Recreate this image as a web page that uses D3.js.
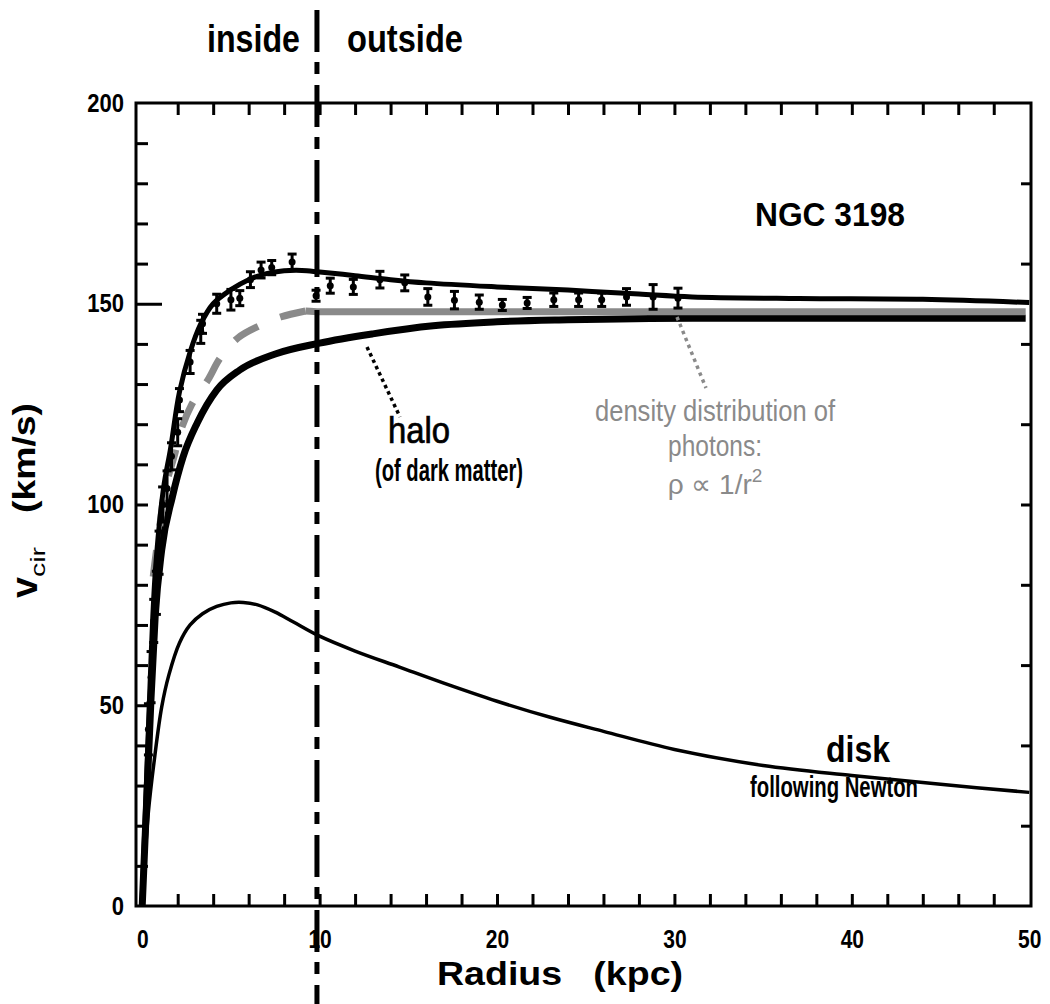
<!DOCTYPE html>
<html>
<head>
<meta charset="utf-8">
<script src="https://cdn.jsdelivr.net/npm/d3@7"></script>
<style>
  html, body { margin: 0; padding: 0; background: #fff; }
  svg { display: block; }
  text { font-family: "Liberation Sans", Arial, sans-serif; }
</style>
</head>
<body>
<svg id="chart" width="1050" height="1004"></svg>
<script>
// ---------- data ----------
const xTicks = [2,4,6,8,10,12,14,16,18,20,22,24,26,28,30,32,34,36,38,40,42,44,46,48];
const xTickLabels = [0,10,20,30,40,50];
const yTicks = [10,20,30,40,50,60,70,80,90,100,110,120,130,140,150,160,170,180,190];
const yTicksRight = [20,40,60,80,100,120,140,160,180];
const yTickLabels = [0,50,100,150,200];

// observed rotation velocities with error bars
const obsR   = [0.35,0.5,0.65,0.8,0.95,1.15,1.4,1.65,2.0,2.1,2.7,3.3,3.4,4.2,5.0,5.5,6.1,6.7,7.3,8.45,9.8,10.6,11.9,13.4,14.8,16.1,17.6,19.0,20.3,21.7,23.2,24.6,25.9,27.3,28.8,30.2];
const obsV   = [44,57,71,78,88,100,104,112,118,126,135.5,143,145,150,151,151.4,156,158.4,159,160.4,152,154.5,154.2,156,155.2,151.7,150.9,150.4,149.7,150.2,151,151,151,151.7,151.7,151.4];
const obsErr = [6,6,5,5,5,4,4,3,3,2.5,2.5,2.5,2,2,2.2,1.5,1.6,1.6,1.4,1.6,1,1.5,1.5,1.7,1.6,1.7,1.8,1.4,1.0,1.0,1.3,1.3,1.3,1.7,2.7,2.1];

// total fit
const totalR = [0,0.25,0.5,0.75,1.2,1.6,2.1,2.7,3.3,4,5,6,7,8,9,10,12,14,16,20,24,28,31,37,44,50];
const totalV = [2,32,62,84,104,114,128,138,145,150,153.5,156,157.5,158.2,158.3,157.9,157,156,155.2,154.2,153.4,152.4,151.7,151.3,151.1,150.3];

// halo (dark matter)
const haloR = [0,0.25,0.5,0.73,1.1,1.7,2.3,3.1,4.2,5.5,7.5,10,13,16.4,20,24,31,40,49.8];
const haloV = [0,26,52,72,88.7,101.9,111.8,120.3,128.5,133.5,137.5,140.2,142.5,144.5,145.5,146,146.4,146.4,146.4];

// photon density model (grey): dashed inner part, solid outer part
const photonInR = [0.62,0.7,1.0,1.3,1.86,2.14,2.8,3.7,4.4,5.4,6.7,7.8,9.2];
const photonInV = [82,85,95,104,113,118,125,131,136.5,141.5,144.7,146.7,148.2];
const photonOutR = [9.2,10,49.8];
const photonOutV = [148.2,148,148];

// disk (Newton)
const diskR = [0,0.34,0.7,1.1,1.5,2.1,2.7,3.4,4.2,5.0,5.7,6.5,7.5,8.5,10,12,14.5,17,20,23,26,30,35,40,45,50];
const diskV = [0,23,37,49.6,57.5,65.5,70,72.8,74.6,75.5,75.6,75,73.2,70.8,67.2,63.5,59.5,55.5,51,47,43.5,39,35,32.5,30.3,28.3];

const boundaryR = 9.85;

// ---------- layout ----------
const svg = d3.select("#chart");
const L = 136, R = 1031, T = 103, B = 906;
const x = d3.scaleLinear().domain([-0.35, 50.1]).range([L, R]);
const y = d3.scaleLinear().domain([0, 200]).range([B, T]);
const FONT = '"Liberation Sans", Arial, sans-serif';

function squeeze(sel, f) {
  sel.each(function() {
    const w = this.getComputedTextLength();
    d3.select(this).attr("textLength", w * f).attr("lengthAdjust", "spacingAndGlyphs");
  });
}

// ---------- axes ----------
function styleAxis(g) {
  g.select(".domain").remove();
  g.selectAll(".tick line").attr("stroke", "#000").attr("stroke-width", 3);
}
svg.append("g").attr("transform", `translate(0,${B})`)
  .call(d3.axisBottom(x).tickValues(xTicks).tickSizeInner(-12).tickSizeOuter(0).tickFormat(""))
  .call(styleAxis);
svg.append("g").attr("transform", `translate(0,${T})`)
  .call(d3.axisTop(x).tickValues(xTicks).tickSizeInner(-12).tickSizeOuter(0).tickFormat(""))
  .call(styleAxis);
svg.append("g").attr("transform", `translate(${L},0)`)
  .call(d3.axisLeft(y).tickValues(yTicks).tickSizeInner(-12).tickSizeOuter(0).tickFormat(""))
  .call(styleAxis)
  .selectAll(".tick line").attr("x2", d => d === 150 ? 26 : 12);
svg.append("g").attr("transform", `translate(${R},0)`)
  .call(d3.axisRight(y).tickValues(yTicksRight).tickSizeInner(-10).tickSizeOuter(0).tickFormat(""))
  .call(styleAxis);

// tick labels
const xl = svg.append("g").attr("transform", `translate(0,${B})`)
  .call(d3.axisBottom(x).tickValues(xTickLabels).tickSize(0).tickPadding(24).tickFormat(d3.format("d")));
xl.select(".domain").remove();
xl.selectAll("text").attr("font-family", FONT).attr("font-size", 25).attr("font-weight", "bold").attr("fill", "#000");
squeeze(xl.selectAll("text"), 0.84);

const yl = svg.append("g").attr("transform", `translate(${L - 12},0)`)
  .call(d3.axisLeft(y).tickValues(yTickLabels).tickSize(0).tickPadding(0).tickFormat(d3.format("d")));
yl.select(".domain").remove();
yl.selectAll("text").attr("font-family", FONT).attr("font-size", 25).attr("font-weight", "bold").attr("fill", "#000");
squeeze(yl.selectAll("text"), 0.88);

// frame
svg.append("rect").attr("x", L).attr("y", T).attr("width", R - L).attr("height", B - T)
  .attr("fill", "none").attr("stroke", "#000").attr("stroke-width", 3);

// ---------- curves ----------
const line = d3.line().x(d => x(d[0])).y(d => y(d[1])).curve(d3.curveMonotoneX);
const smooth = d3.line().x(d => x(d[0])).y(d => y(d[1])).curve(d3.curveCatmullRom.alpha(0.5));
const zip = (a, b) => a.map((v, i) => [v, b[i]]);

svg.append("path").attr("d", line(zip(haloR, haloV)))
  .attr("fill", "none").attr("stroke", "#000").attr("stroke-width", 7);
svg.append("path").attr("d", smooth(zip(photonInR, photonInV)))
  .attr("fill", "none").attr("stroke", "#8a8a8a").attr("stroke-width", 7).attr("stroke-dasharray", "27,24");
svg.append("path").attr("d", line(zip(photonOutR, photonOutV)))
  .attr("fill", "none").attr("stroke", "#8a8a8a").attr("stroke-width", 7);
svg.append("path").attr("d", smooth(zip(totalR, totalV)))
  .attr("fill", "none").attr("stroke", "#000").attr("stroke-width", 5);
svg.append("path").attr("d", smooth(zip(diskR, diskV)))
  .attr("fill", "none").attr("stroke", "#000").attr("stroke-width", 3.5);

// ---------- observations ----------
const obs = obsR.map((r, i) => ({ r, v: obsV[i], e: obsErr[i] }));
const og = svg.append("g").selectAll("g").data(obs).join("g");
og.append("line").attr("x1", d => x(d.r)).attr("x2", d => x(d.r))
  .attr("y1", d => y(d.v + d.e) - 1.5).attr("y2", d => y(d.v - d.e) + 1.5)
  .attr("stroke", "#000").attr("stroke-width", 3);
og.append("line").attr("x1", d => x(d.r) - 4.5).attr("x2", d => x(d.r) + 4.5)
  .attr("y1", d => y(d.v + d.e) - 1.5).attr("y2", d => y(d.v + d.e) - 1.5)
  .attr("stroke", "#000").attr("stroke-width", 3);
og.append("line").attr("x1", d => x(d.r) - 4.5).attr("x2", d => x(d.r) + 4.5)
  .attr("y1", d => y(d.v - d.e) + 1.5).attr("y2", d => y(d.v - d.e) + 1.5)
  .attr("stroke", "#000").attr("stroke-width", 3);
og.append("circle").attr("cx", d => x(d.r)).attr("cy", d => y(d.v)).attr("r", 3.5).attr("fill", "#000");

// ---------- boundary line ----------
svg.append("line").attr("x1", x(boundaryR)).attr("x2", x(boundaryR)).attr("y1", 10).attr("y2", 1004)
  .attr("stroke", "#000").attr("stroke-width", 5).attr("stroke-dasharray", "42,10,12,11");

// ---------- leader lines ----------
svg.append("line").attr("x1", 367).attr("y1", 347).attr("x2", 400).attr("y2", 417)
  .attr("stroke", "#000").attr("stroke-width", 3.5).attr("stroke-dasharray", "3.5,3.5");
svg.append("line").attr("x1", 677).attr("y1", 317).attr("x2", 706).attr("y2", 388)
  .attr("stroke", "#8a8a8a").attr("stroke-width", 3.5).attr("stroke-dasharray", "3.5,4");

// ---------- labels ----------
function label(tx, ty, str, size, weight, len, color, anchor) {
  const t = svg.append("text").attr("x", tx).attr("y", ty).text(str)
    .attr("font-family", FONT).attr("font-size", size).attr("font-weight", weight)
    .attr("fill", color || "#000").attr("text-anchor", anchor || "start");
  if (len) t.attr("textLength", len).attr("lengthAdjust", "spacingAndGlyphs");
  return t;
}
label(207, 52, "inside", 38, "bold", 93);
label(347, 52, "outside", 38, "bold", 116);
label(755, 226, "NGC 3198", 33, "bold", 150);
label(388, 443, "halo", 36, "normal", 62).attr("stroke", "#000").attr("stroke-width", 0.7);
label(375, 481, "(of dark matter)", 31, "bold", 148);
label(595, 421, "density distribution of", 30, "normal", 240, "#8a8a8a");
label(715, 456, "photons:", 30, "normal", 94, "#8a8a8a", "middle");
const rho = label(715, 494, "", 28, "normal", null, "#8a8a8a", "middle");
rho.append("tspan").text("ρ ∝ 1/r");
rho.append("tspan").text("2").attr("font-size", 19).attr("dy", -12);
label(826, 762, "disk", 36, "bold", 64);
label(750, 797, "following Newton", 30, "bold", 168);
label(437, 985, "Radius   (kpc)", 34, "bold", 246).attr("xml:space", "preserve");

// y-axis title (rotated)
svg.append("text").attr("transform", "translate(37,598) rotate(-90)").text("v")
  .attr("font-family", FONT).attr("font-size", 36).attr("font-weight", "bold")
  .attr("textLength", 21).attr("lengthAdjust", "spacingAndGlyphs");
svg.append("text").attr("transform", "translate(45,577) rotate(-90)").text("cir")
  .attr("font-family", FONT).attr("font-size", 21).attr("font-weight", "normal")
  .attr("textLength", 30).attr("lengthAdjust", "spacingAndGlyphs");
svg.append("text").attr("transform", "translate(35,513) rotate(-90)").text("(km/s)")
  .attr("font-family", FONT).attr("font-size", 32).attr("font-weight", "bold")
  .attr("textLength", 110).attr("lengthAdjust", "spacingAndGlyphs");
</script>
</body>
</html>
